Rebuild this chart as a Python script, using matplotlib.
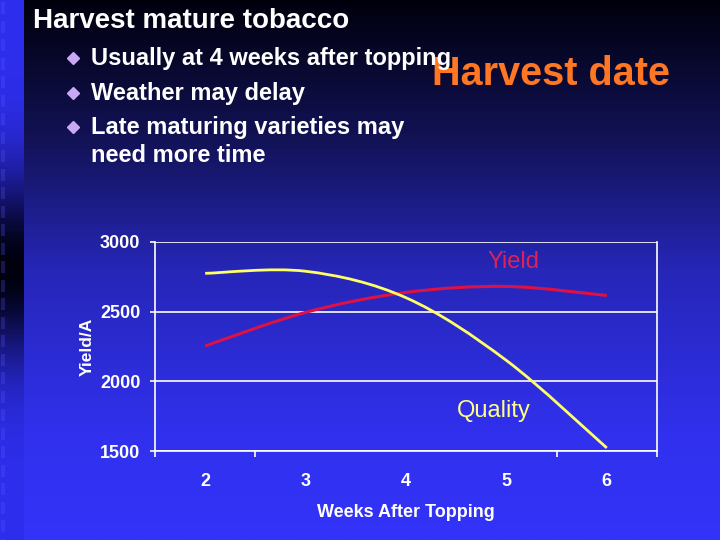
import matplotlib
matplotlib.use("Agg")
import matplotlib.pyplot as plt
import numpy as np
from matplotlib.path import Path
from matplotlib.patches import PathPatch, Rectangle
from matplotlib.lines import Line2D
from matplotlib.colors import LinearSegmentedColormap

plt.rcParams['font.family'] = ['Liberation Sans', 'DejaVu Sans']

# data
weeks = [2, 3, 4, 5, 6]
week_labels = ['2', '3', '4', '5', '6']
yield_vals = [2254, 2495, 2638, 2681, 2616]
quality_vals = [2775, 2790, 2600, 2150, 1522]
y_ticks = [1500, 2000, 2500, 3000]

bullets = ['Usually at 4 weeks after topping',
           'Weather may delay',
           'Late maturing varieties may\nneed more time']


def smooth_path(xs, ys):
    # bezier segments through the points (like a smoothed office chart line)
    pts = np.column_stack([xs, ys]).astype(float)
    n = len(pts)
    verts = [pts[0]]
    codes = [Path.MOVETO]
    for i in range(n - 1):
        p0 = pts[max(i - 1, 0)]
        p1 = pts[i]
        p2 = pts[i + 1]
        p3 = pts[min(i + 2, n - 1)]
        c1 = p1 + (p2 - p0) / 6.0
        c2 = p2 - (p3 - p1) / 6.0
        verts += [c1, c2, p2]
        codes += [Path.CURVE4] * 3
    return Path(verts, codes)


fig = plt.figure(figsize=(7.2, 5.4), dpi=100)

# background of the slide
bg = fig.add_axes([0, 0, 1, 1], zorder=0)
bg.set_xlim(0, 720)
bg.set_ylim(540, 0)
bg.axis('off')
main_cmap = LinearSegmentedColormap.from_list('slide', [
    (0.0, (0.0, 0.0, 0.05)),
    (0.25, (0.07, 0.07, 0.33)),
    (0.5, (0.15, 0.15, 0.72)),
    (0.8, (0.19, 0.19, 0.93)),
    (1.0, (0.20, 0.20, 0.98))])
grad = np.linspace(0, 1, 256).reshape(-1, 1)
bg.imshow(grad, cmap=main_cmap, extent=[24, 720, 540, 0], aspect='auto')

# left strip
yy = np.linspace(0, 540, 256)
strip = np.exp(-((yy - 268) / 95.0) ** 2).reshape(-1, 1)
strip_cmap = LinearSegmentedColormap.from_list('strip', [
    (0.0, (0.18, 0.18, 0.93)), (1.0, (0.0, 0.0, 0.06))])
bg.imshow(strip, cmap=strip_cmap, extent=[0, 24, 540, 0], aspect='auto')
for y0 in np.arange(2, 540, 18.5):
    bg.add_patch(Rectangle((1, y0), 4, 12, color=(0.35, 0.35, 1.0), alpha=0.25, lw=0))

# slide texts
fig.text(33 / 720, 1 - 21 / 540, 'Harvest mature tobacco', color='white',
         fontsize=20, fontweight='bold', va='center', ha='left')
fig.text(432 / 720, 1 - 74 / 540, 'Harvest date', color='#ff7722',
         fontsize=28.5, fontweight='bold', va='center', ha='left', zorder=1)
bullet_y = [58, 93, 127]
for by, txt in zip(bullet_y, bullets):
    bg.add_line(Line2D([73], [by], marker='D', markersize=6.5,
                       color='#c9a8f5', lw=0))
    fig.text(91 / 720, 1 - (by - 11) / 540, txt, color='white', fontsize=17,
             fontweight='bold', va='top', ha='left', linespacing=1.25, zorder=3)

# chart
ax = fig.add_axes([155 / 720, 1 - 451 / 540, 502 / 720, 209 / 540], zorder=2)
ax.patch.set_alpha(0)
ax.set_xlim(1.5, 6.5)
ax.set_ylim(1500, 3000)

for v in y_ticks:
    ax.axhline(v, color='white', lw=1.2, zorder=1)

ax.add_patch(PathPatch(smooth_path(weeks, yield_vals), fill=False,
                       edgecolor='#dd1144', lw=2.2, zorder=3))
ax.add_patch(PathPatch(smooth_path(weeks, quality_vals), fill=False,
                       edgecolor='#ffff66', lw=2.0, zorder=4))

ax.spines['top'].set_visible(False)
for s in ['left', 'right', 'bottom']:
    ax.spines[s].set_color('white')
    ax.spines[s].set_linewidth(1.2)

ax.set_yticks(y_ticks)
ax.set_yticklabels([str(v) for v in y_ticks])
ax.set_xticks(weeks)
ax.set_xticklabels(week_labels)
ax.tick_params(axis='x', length=0, pad=16, labelcolor='white', labelsize=13)
ax.tick_params(axis='y', length=3.6, width=1.2, color='white', pad=7,
               labelcolor='white', labelsize=13)
ax.set_xticks([1.5, 2.5, 5.5, 6.5], minor=True)
ax.tick_params(axis='x', which='minor', length=4.5, width=1.2, color='white')
for lbl in ax.get_xticklabels() + ax.get_yticklabels():
    lbl.set_fontweight('bold')

ax.set_xlabel('Weeks After Topping', color='white', fontsize=13,
              fontweight='bold', labelpad=10)
ax.set_ylabel('Yield/A', color='white', fontsize=12.5, fontweight='bold',
              labelpad=4)

ax.text(5.07, 2856, 'Yield', color='#dd2255', fontsize=17, ha='center', va='center')
ax.text(4.87, 1790, 'Quality', color='#ffff88', fontsize=17, ha='center', va='center')

plt.savefig('out.png', dpi=100)
